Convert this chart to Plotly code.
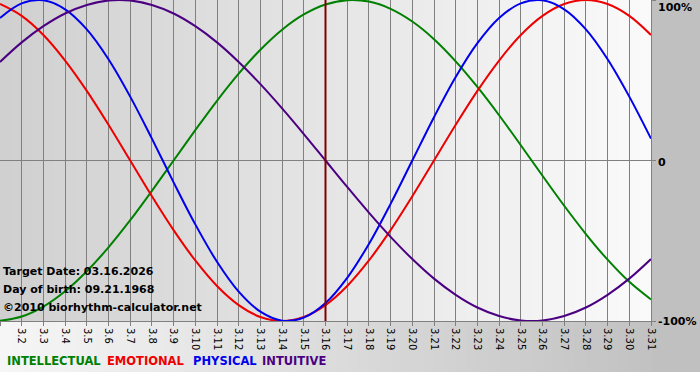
import plotly.graph_objects as go

days = list(range(1, 32))
tick_labels = [f"3.{d}" for d in days]
target_day = 16

intellectual = [-99.9, -97.2, -91.0, -81.5, -69.0, -54.1, -37.2, -18.9, 0.0, 18.9,
                37.2, 54.1, 69.0, 81.5, 91.0, 97.2, 99.9, 99.0, 94.5, 86.6,
                75.6, 61.8, 45.8, 28.2, 9.5, -9.5, -28.2, -45.8, -61.8, -75.6, -86.6]
emotional = [97.5, 90.1, 78.2, 62.3, 43.4, 22.3, 0.0, -22.3, -43.4, -62.3,
             -78.2, -90.1, -97.5, -100.0, -97.5, -90.1, -78.2, -62.3, -43.4, -22.3,
             0.0, 22.3, 43.4, 62.3, 78.2, 90.1, 97.5, 100.0, 97.5, 90.1, 78.2]
physical = [88.8, 97.9, 99.8, 94.2, 81.7, 63.1, 39.8, 13.6, -13.6, -39.8,
            -63.1, -81.7, -94.2, -99.8, -97.9, -88.8, -73.1, -52.0, -27.0, 0.0,
            27.0, 52.0, 73.1, 88.8, 97.9, 99.8, 94.2, 81.7, 63.1, 39.8, 13.6]
intuitive = [61.4, 73.6, 83.7, 91.6, 96.9, 99.7, 99.7, 96.9, 91.6, 83.7,
             73.6, 61.4, 47.6, 32.5, 16.5, 0.0, -16.5, -32.5, -47.6, -61.4,
             -73.6, -83.7, -91.6, -96.9, -99.7, -99.7, -96.9, -91.6, -83.7, -73.6, -61.4]

series_names = ["INTELLECTUAL", "EMOTIONAL", "PHYSICAL", "INTUITIVE"]
series_values = [intellectual, emotional, physical, intuitive]
colors = ["#008000", "#ee0000", "#0000ee", "#4b0082"]
y_tick_vals = [-100, 0, 100]
y_tick_text = ["-100%", "0", "100%"]
info_lines = ["Target Date: 03.16.2026", "Day of birth: 09.21.1968", "©2010 biorhythm-calculator.net"]

W, H = 700, 380
ML, MR, MT, MB = 0, 49, 0, 59
PW, PH = W - ML - MR, H - MT - MB

def px2paper_x(px):
    return (px - ML) / PW

def px2paper_y(py):
    return (H - MB - py) / PH

fig = go.Figure()
for name, vals, c in zip(series_names, series_values, colors):
    fig.add_trace(go.Scatter(x=days, y=vals, mode="lines", name=name,
                             line=dict(color=c, width=2, shape="spline", smoothing=1.0),
                             hoverinfo="skip"))

shapes = []
n = 60
for i in range(n):
    t = i / (n - 1)
    v = int(round(208 + (250 - 208) * t))
    shapes.append(dict(type="rect", xref="paper", yref="paper", layer="below",
                       x0=i / n, x1=(i + 1) / n + 0.002, y0=0, y1=1,
                       fillcolor=f"rgb({v},{v},{v})", line=dict(width=0)))
shapes.append(dict(type="rect", xref="paper", yref="paper", layer="below",
                   x0=1, x1=px2paper_x(W) + 0.01, y0=px2paper_y(372), y1=1.01,
                   fillcolor="rgb(192,192,192)", line=dict(width=0)))
for i in range(n):
    t = i / (n - 1)
    v = int(round(246 + (194 - 246) * t))
    shapes.append(dict(type="rect", xref="paper", yref="paper", layer="below",
                       x0=i / n, x1=(i + 1) / n + 0.002, y0=px2paper_y(372), y1=0,
                       fillcolor=f"rgb({v},{v},{v})", line=dict(width=0)))

fig.update_layout(shapes=shapes)
fig.add_vline(x=target_day, line=dict(color="#800000", width=2), layer="above")

annotations = []
for i, line in enumerate(info_lines):
    annotations.append(dict(text=f"<b>{line}</b>", xref="paper", yref="paper",
                            x=px2paper_x(1), y=px2paper_y(271 + 18 * i),
                            xanchor="left", yanchor="middle", showarrow=False,
                            font=dict(family="DejaVu Sans", size=11, color="black")))
legend_x = [5, 105, 191, 260]
for name, c, lx in zip(series_names, colors, legend_x):
    annotations.append(dict(text=f"<b>{name}</b>", xref="paper", yref="paper",
                            x=px2paper_x(lx), y=px2paper_y(361),
                            xanchor="left", yanchor="middle", showarrow=False,
                            font=dict(family="DejaVu Sans", size=11.5, color=c)))
right_label_py = {100: 7, 0: 162, -100: 322}
for v, t in zip(y_tick_vals, y_tick_text):
    annotations.append(dict(text=f"<b>{t}</b>", xref="paper", yref="paper",
                            x=px2paper_x(656), y=px2paper_y(right_label_py[v]),
                            xanchor="left", yanchor="middle", showarrow=False,
                            font=dict(family="DejaVu Sans", size=11, color="black")))
fig.update_layout(annotations=annotations)

fig.update_layout(
    width=W, height=H,
    margin=dict(l=ML, r=MR, t=MT, b=MB, pad=0),
    paper_bgcolor="white",
    plot_bgcolor="rgba(0,0,0,0)",
    showlegend=False,
    xaxis=dict(range=[1, 31], tickmode="array", tickvals=days, ticktext=tick_labels,
               tickangle=90, ticks="outside", ticklen=4, tickcolor="#808080",
               ticklabelshift=0,
               showgrid=True, gridcolor="#808080", gridwidth=1,
               showline=True, linecolor="#808080", linewidth=1,
               zeroline=False, fixedrange=True,
               tickfont=dict(family="DejaVu Sans", size=10, color="black")),
    yaxis=dict(range=[-100, 100], side="right", tickmode="array",
               tickvals=y_tick_vals, showticklabels=False,
               ticks="outside", ticklen=4, tickcolor="#808080",
               showgrid=False, zeroline=True, zerolinecolor="#808080", zerolinewidth=1,
               showline=True, linecolor="#808080", linewidth=1, fixedrange=True),
)

fig.write_html("out.html", config={"displayModeBar": False})
